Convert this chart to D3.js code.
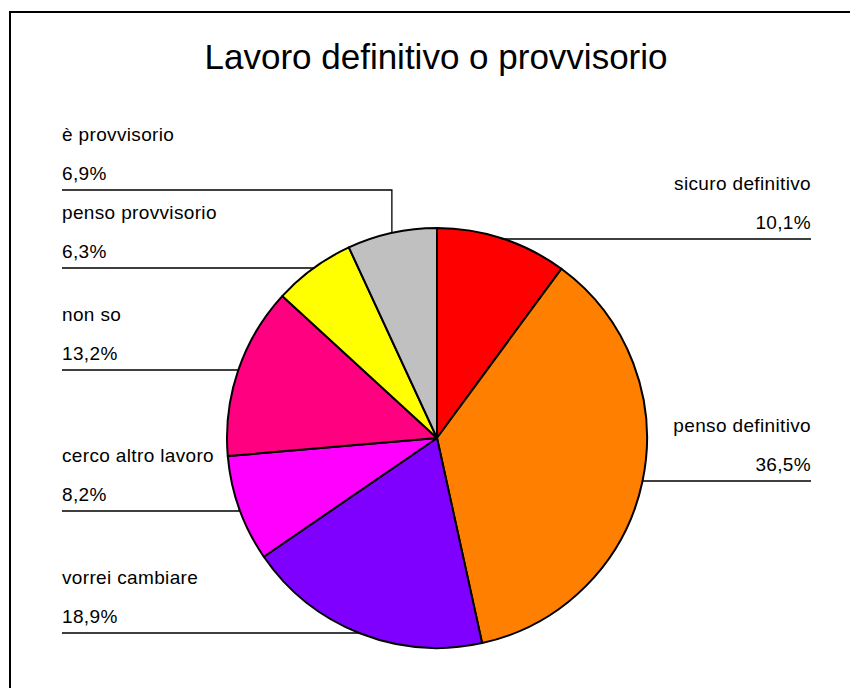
<!DOCTYPE html>
<html>
<head>
<meta charset="utf-8">
<script src="https://cdn.jsdelivr.net/npm/d3@7/dist/d3.min.js"></script>
<style>
  body { margin: 0; background: #fff; }
  svg text { font-family: "Liberation Sans", Arial, sans-serif; fill: #000; }
</style>
</head>
<body>
<svg id="chart" width="850" height="688"></svg>
<script>
// Survey answers, clockwise from 12 o'clock
const categories = ["sicuro definitivo", "penso definitivo", "vorrei cambiare", "cerco altro lavoro", "non so", "penso provvisorio", "è provvisorio"];
const values = [10.1, 36.5, 18.9, 8.2, 13.2, 6.3, 6.9];
const colors = ["#FF0000", "#FF8000", "#8000FF", "#FF00FF", "#FF0080", "#FFFF00", "#C0C0C0"];
const title = "Lavoro definitivo o provvisorio";

// Label placement: side of the pie and the y of each label's underline
const labelSide = ["right", "right", "left", "left", "left", "left", "left"];
const labelLineY = [239, 481, 633, 511, 370, 268, 190];

const cx = 437, cy = 438, R = 210;
const leftX = 62, rightX = 811;

const svg = d3.select("#chart");

// Outer frame (only top and left edges fall inside the page)
svg.append("rect")
  .attr("x", 10).attr("y", 12)
  .attr("width", 1000).attr("height", 1000)
  .attr("fill", "none").attr("stroke", "#000").attr("stroke-width", 2);

svg.append("text")
  .attr("x", cx - 1).attr("y", 69)
  .attr("text-anchor", "middle")
  .attr("font-size", 35)
  .text(title);

const data = categories.map((c, i) => ({ name: c, value: values[i], color: colors[i], side: labelSide[i], lineY: labelLineY[i] }));

const pie = d3.pie().sort(null).value(d => d.value);
const arcs = pie(data);
const arc = d3.arc().innerRadius(0).outerRadius(R);

const g = svg.append("g").attr("transform", `translate(${cx},${cy})`);

g.selectAll("path.slice")
  .data(arcs)
  .join("path")
  .attr("class", "slice")
  .attr("d", arc)
  .attr("fill", d => d.data.color)
  .attr("stroke", "#000")
  .attr("stroke-width", 2)
  .attr("stroke-linejoin", "round");

// Leader lines: from the label underline to the mid-point of each slice's rim
const fmt = v => d3.format(".1f")(v).replace(".", ",") + "%";

arcs.forEach(a => {
  const mid = (a.startAngle + a.endAngle) / 2;
  const px = cx + R * Math.sin(mid);
  const py = cy - R * Math.cos(mid);
  const ly = a.data.lineY;
  const x0 = a.data.side === "left" ? leftX : rightX;

  svg.append("path")
    .attr("d", d3.line()([[x0, ly], [px, ly], [px, py]]))
    .attr("fill", "none")
    .attr("stroke", "#000")
    .attr("stroke-width", 1.3);

  const anchor = a.data.side === "left" ? "start" : "end";
  svg.append("text")
    .attr("x", x0).attr("y", ly - 49)
    .attr("text-anchor", anchor)
    .attr("font-size", 19)
    .attr("letter-spacing", 0.35)
    .text(a.data.name);
  svg.append("text")
    .attr("x", x0).attr("y", ly - 10)
    .attr("text-anchor", anchor)
    .attr("font-size", 19)
    .attr("letter-spacing", 0.35)
    .text(fmt(a.data.value));
});
</script>
</body>
</html>
